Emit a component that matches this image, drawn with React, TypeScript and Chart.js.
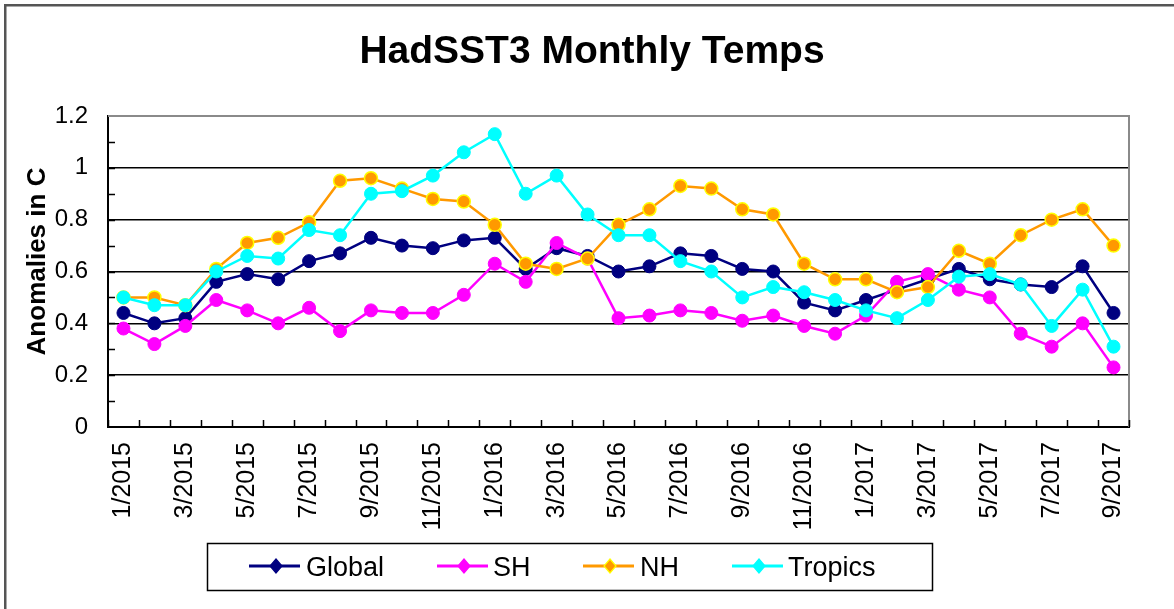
import { useEffect, useRef } from 'react';
import { Chart, registerables } from 'chart.js';

Chart.register(...registerables);

const months = [
  '1/2015', '2/2015', '3/2015', '4/2015', '5/2015', '6/2015', '7/2015', '8/2015', '9/2015', '10/2015', '11/2015', '12/2015',
  '1/2016', '2/2016', '3/2016', '4/2016', '5/2016', '6/2016', '7/2016', '8/2016', '9/2016', '10/2016', '11/2016', '12/2016',
  '1/2017', '2/2017', '3/2017', '4/2017', '5/2017', '6/2017', '7/2017', '8/2017', '9/2017',
];

const globalTemps = [0.44, 0.40, 0.42, 0.56, 0.59, 0.57, 0.64, 0.67, 0.73, 0.70, 0.69, 0.72, 0.73, 0.61, 0.69, 0.66, 0.60, 0.62, 0.67, 0.66, 0.61, 0.60, 0.48, 0.45, 0.49, 0.53, 0.57, 0.61, 0.57, 0.55, 0.54, 0.62, 0.44];
const shTemps = [0.38, 0.32, 0.39, 0.49, 0.45, 0.40, 0.46, 0.37, 0.45, 0.44, 0.44, 0.51, 0.63, 0.56, 0.71, 0.65, 0.42, 0.43, 0.45, 0.44, 0.41, 0.43, 0.39, 0.36, 0.43, 0.56, 0.59, 0.53, 0.50, 0.36, 0.31, 0.40, 0.23];
const nhTemps = [0.50, 0.50, 0.47, 0.61, 0.71, 0.73, 0.79, 0.95, 0.96, 0.92, 0.88, 0.87, 0.78, 0.63, 0.61, 0.65, 0.78, 0.84, 0.93, 0.92, 0.84, 0.82, 0.63, 0.57, 0.57, 0.52, 0.54, 0.68, 0.63, 0.74, 0.80, 0.84, 0.70];
const tropicsTemps = [0.50, 0.47, 0.47, 0.60, 0.66, 0.65, 0.76, 0.74, 0.90, 0.91, 0.97, 1.06, 1.13, 0.90, 0.97, 0.82, 0.74, 0.74, 0.64, 0.60, 0.50, 0.54, 0.52, 0.49, 0.45, 0.42, 0.49, 0.58, 0.59, 0.55, 0.39, 0.53, 0.31];

const seriesNames = ['Global', 'SH', 'NH', 'Tropics'];
const seriesData = [globalTemps, shTemps, nhTemps, tropicsTemps];
const seriesColors = ['#000080', '#FF00FF', '#FF9900', '#00FFFF'];
const markerBorders = ['#000080', '#FF00FF', '#FFFF00', '#00FFFF'];

const titleText = 'HadSST3 Monthly Temps';
const yTitleText = 'Anomalies in C';

const FONT = "'Liberation Sans', Arial, sans-serif";

const decorPlugin = {
  id: 'decor',
  beforeDraw(chart: any) {
    const ctx = chart.ctx;
    ctx.save();
    ctx.fillStyle = '#ffffff';
    ctx.fillRect(0, 0, chart.width, chart.height);
    ctx.strokeStyle = '#555555';
    ctx.lineWidth = 2.5;
    ctx.beginPath();
    ctx.moveTo(5.25, chart.height);
    ctx.lineTo(5.25, 5.25);
    ctx.lineTo(chart.width, 5.25);
    ctx.stroke();
    ctx.restore();
  },
  beforeDatasetsDraw(chart: any) {
    const ctx = chart.ctx;
    const { left, right, top, bottom } = chart.chartArea;
    const xs = chart.scales.x;
    const ys = chart.scales.y;
    ctx.save();
    // grey top/right border of plot area
    ctx.strokeStyle = '#8a8a8a';
    ctx.lineWidth = 2;
    ctx.beginPath();
    ctx.moveTo(left, top);
    ctx.lineTo(right, top);
    ctx.lineTo(right, bottom);
    ctx.stroke();
    // inner ticks
    ctx.strokeStyle = '#000';
    ctx.lineWidth = 1.5;
    ctx.beginPath();
    for (let k = 1; k < 12; k++) {
      const py = Math.round(ys.getPixelForValue(k / 10)) + 0.5;
      ctx.moveTo(left, py);
      ctx.lineTo(left + 7, py);
    }
    const n = months.length;
    const step = n > 1 ? (xs.getPixelForValue(1) - xs.getPixelForValue(0)) : (right - left);
    for (let i = 0; i <= n; i++) {
      const px = Math.round(xs.getPixelForValue(0) - step / 2 + i * step) + 0.5;
      ctx.moveTo(px, bottom);
      ctx.lineTo(px, bottom - 7);
    }
    ctx.stroke();
    ctx.restore();
  },
  afterDraw(chart: any) {
    const ctx = chart.ctx;
    ctx.save();
    // title
    ctx.fillStyle = '#000';
    ctx.font = `bold 39px ${FONT}`;
    ctx.textAlign = 'center';
    ctx.textBaseline = 'alphabetic';
    ctx.fillText(titleText, 592, 63);
    // y title
    ctx.save();
    ctx.translate(45, 261.5);
    ctx.rotate(-Math.PI / 2);
    ctx.font = `bold 26px ${FONT}`;
    ctx.textAlign = 'center';
    ctx.textBaseline = 'alphabetic';
    ctx.fillText(yTitleText, 0, 0);
    ctx.restore();
    // legend
    ctx.strokeStyle = '#000';
    ctx.lineWidth = 1.5;
    ctx.strokeRect(207.5, 543.5, 725, 47);
    const lineStarts = [249, 437, 583, 732];
    const textXs = [306, 493, 640, 788];
    const ly = 566;
    ctx.font = `27px ${FONT}`;
    ctx.textAlign = 'left';
    ctx.textBaseline = 'alphabetic';
    seriesNames.forEach((name, i) => {
      const x0 = lineStarts[i];
      ctx.strokeStyle = seriesColors[i];
      ctx.lineWidth = 3;
      ctx.beginPath();
      ctx.moveTo(x0, ly);
      ctx.lineTo(x0 + 51, ly);
      ctx.stroke();
      const cx = x0 + 27;
      ctx.fillStyle = seriesColors[i];
      ctx.strokeStyle = markerBorders[i];
      ctx.lineWidth = 1.2;
      ctx.beginPath();
      ctx.moveTo(cx, ly - 7);
      ctx.lineTo(cx + 6, ly);
      ctx.lineTo(cx, ly + 7);
      ctx.lineTo(cx - 6, ly);
      ctx.closePath();
      ctx.fill();
      ctx.stroke();
      ctx.fillStyle = '#000';
      ctx.fillText(name, textXs[i], 576);
    });
    ctx.restore();
  },
};

export default function App() {
  const canvasRef = useRef<HTMLCanvasElement | null>(null);

  useEffect(() => {
    if (!canvasRef.current) return;
    Chart.defaults.font.family = FONT;
    const chart = new Chart(canvasRef.current, {
      type: 'line',
      data: {
        labels: months,
        datasets: seriesNames.map((name, i) => ({
          label: name,
          data: seriesData[i],
          borderColor: seriesColors[i],
          backgroundColor: seriesColors[i],
          pointBackgroundColor: seriesColors[i],
          pointBorderColor: markerBorders[i],
          pointBorderWidth: i === 2 ? 1.5 : 1,
          pointRadius: 6.5,
          pointHoverRadius: 6.5,
          borderWidth: 2.5,
          tension: 0,
          fill: false,
          order: 4 - i,
        })),
      },
      options: {
        animation: false,
        responsive: false,
        events: [],
        layout: { padding: { left: 0, top: 116, right: 45, bottom: 62 } },
        plugins: {
          legend: { display: false },
          title: { display: false },
          tooltip: { enabled: false },
        },
        scales: {
          x: {
            type: 'category',
            offset: true,
            grid: { display: false, drawTicks: false },
            border: { display: true, color: '#000', width: 2 },
            ticks: {
              autoSkip: false,
              minRotation: 90,
              maxRotation: 90,
              padding: 15,
              color: '#000',
              font: { size: 25, family: FONT },
              callback: (_v: any, i: number) => (i % 2 === 0 ? months[i] : ''),
            },
            afterFit: (s: any) => { s.height = 120; },
          },
          y: {
            min: 0,
            max: 1.2,
            ticks: {
              stepSize: 0.2,
              padding: 20,
              color: '#000',
              font: { size: 24, family: FONT },
              callback: (v: any) => String(Math.round(Number(v) * 10) / 10),
            },
            grid: {
              drawTicks: false,
              color: (c: any) => (c.tick && c.tick.value > 0.01 && c.tick.value < 1.19 ? '#000' : 'rgba(0,0,0,0)'),
              lineWidth: 1.5,
            },
            border: { display: true, color: '#000', width: 2 },
            afterFit: (s: any) => { s.width = 108; },
          },
        },
      } as any,
      plugins: [decorPlugin],
    });
    return () => chart.destroy();
  }, []);

  return (
    <div style={{ position: 'absolute', left: 0, top: 0, width: 1174, height: 609, background: '#fff' }}>
      <canvas ref={canvasRef} width={1174} height={609} style={{ display: 'block' }} />
    </div>
  );
}
